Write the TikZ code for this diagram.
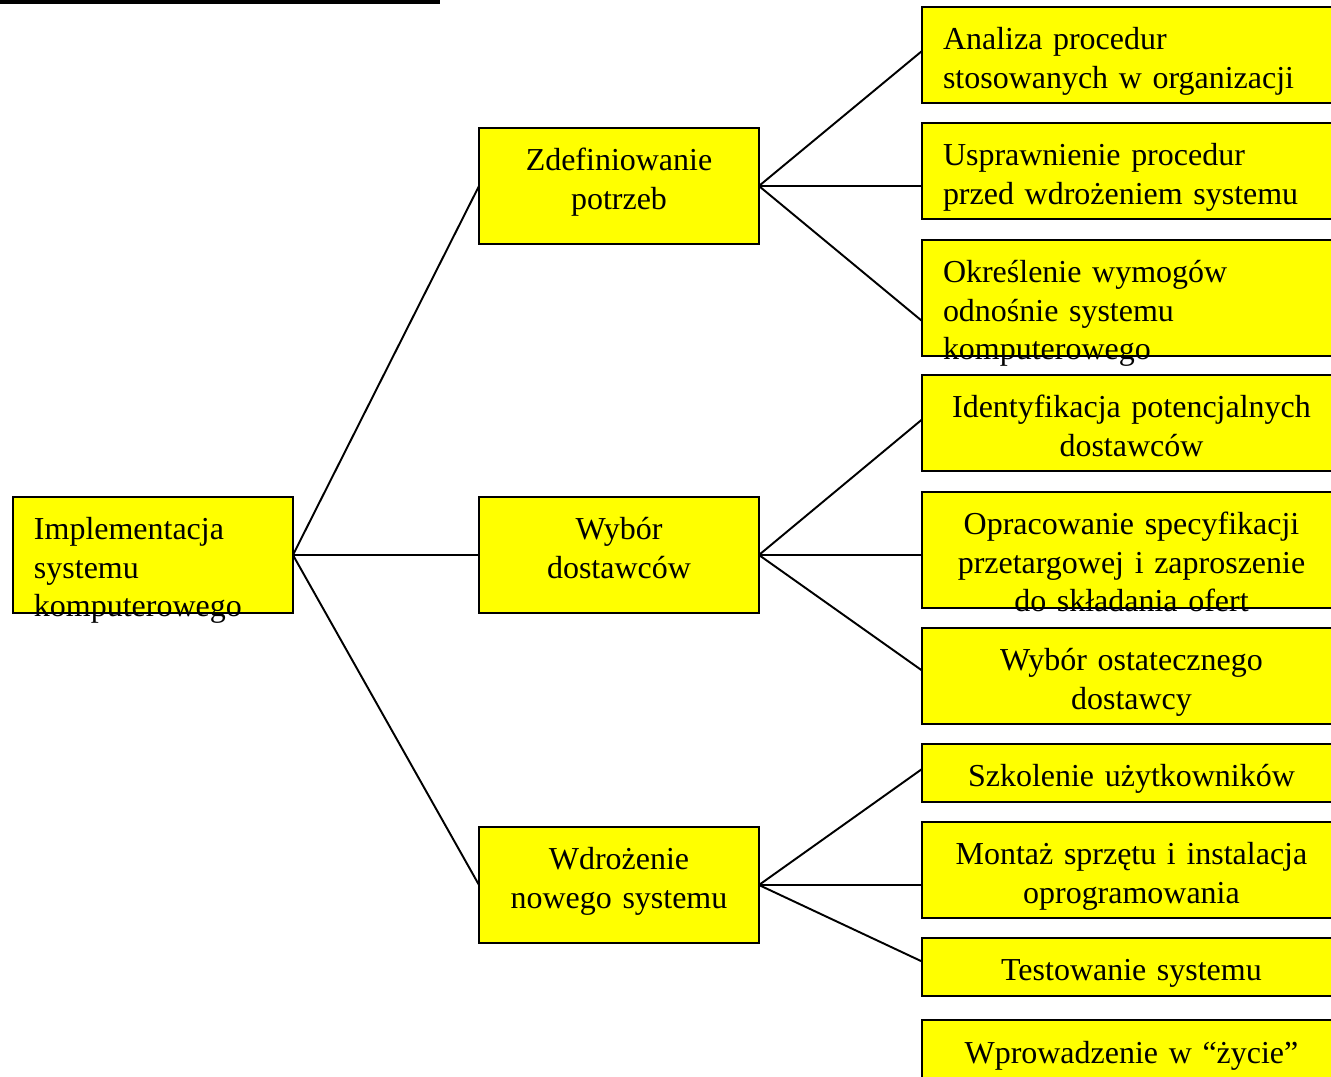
\documentclass[tikz,border=0pt]{standalone}
\usepackage{fontspec}
\setmainfont{Liberation Serif}
\definecolor{boxyellow}{RGB}{255,255,0}

\begin{document}
\begin{tikzpicture}[x=0.02cm, y=-0.02cm,
        box/.style={rectangle, draw, fill=boxyellow, line width=1.1pt, anchor=north west,
            inner xsep=0.42cm, inner ysep=0pt, outer sep=0pt,
            font=\fontsize{18.2}{21.7}\selectfont, text height=0.86cm},
        mainbox/.style={box, text width=4.76cm, text depth=1.46cm, align=#1},
        sidebox/.style={box, text width=7.54cm, align=#1},
        oneline/.style={text depth=0.30cm},
        twoline/.style={text depth=1.06cm},
        threeline/.style={text depth=1.46cm},
        link/.style={line width=1.1pt}]
        \useasboundingbox (0,0) rectangle (1331,1077);
        \fill (0,0) rectangle (440,4);

        % Nodes
        \node (implementacja) [mainbox=left] at (13,497) {Implementacja\\systemu\\komputerowego};
        \node (potrzeby) [mainbox=center] at (479,128) {Zdefiniowanie\\potrzeb};
        \node (dostawcy) [mainbox=center] at (479,497) {Wybór\\dostawców};
        \node (wdrozenie) [mainbox=center] at (479,827) {Wdrożenie\\nowego systemu};

        \node (analiza) [sidebox=left, twoline] at (922,7) {Analiza procedur\\stosowanych w organizacji};
        \node (usprawnienie) [sidebox=left, twoline] at (922,123) {Usprawnienie procedur\\przed wdrożeniem systemu};
        \node (wymogi) [sidebox=left, threeline] at (922,240) {Określenie wymogów\\odnośnie systemu\\komputerowego};
        \node (identyfikacja) [sidebox=center, twoline] at (922,375) {Identyfikacja potencjalnych\\dostawców};
        \node (specyfikacja) [sidebox=center, threeline] at (922,492) {Opracowanie specyfikacji\\przetargowej i zaproszenie\\do składania ofert};
        \node (ostateczny) [sidebox=center, twoline] at (922,628) {Wybór ostatecznego\\dostawcy};
        \node (szkolenie) [sidebox=center, oneline] at (922,744) {Szkolenie użytkowników};
        \node (montaz) [sidebox=center, twoline] at (922,822) {Montaż sprzętu i instalacja\\oprogramowania};
        \node (testowanie) [sidebox=center, oneline] at (922,938) {Testowanie systemu};
        \node (wprowadzenie) [sidebox=center, twoline] at (922,1020) {Wprowadzenie w “życie”};

        % Lines
        \draw[link] (implementacja.east) -- (potrzeby.west);
        \draw[link] (implementacja.east) -- (dostawcy.west);
        \draw[link] (implementacja.east) -- (wdrozenie.west);

        \draw[link] (potrzeby.east) -- ([yshift=0.08cm]analiza.west);
        \draw[link] (potrzeby.east) -- (potrzeby.east -| usprawnienie.west);
        \draw[link] (potrzeby.east) -- ([yshift=-0.46cm]wymogi.west);

        \draw[link] (dostawcy.east) -- ([yshift=0.07cm]identyfikacja.west);
        \draw[link] (dostawcy.east) -- (dostawcy.east -| specyfikacja.west);
        \draw[link] (dostawcy.east) -- ([yshift=0.11cm]ostateczny.west);

        \draw[link] (wdrozenie.east) -- ([yshift=0.08cm]szkolenie.west);
        \draw[link] (wdrozenie.east) -- (wdrozenie.east -| montaz.west);
        \draw[link] (wdrozenie.east) -- ([yshift=0.11cm]testowanie.west);
    \end{tikzpicture}
\end{document}
